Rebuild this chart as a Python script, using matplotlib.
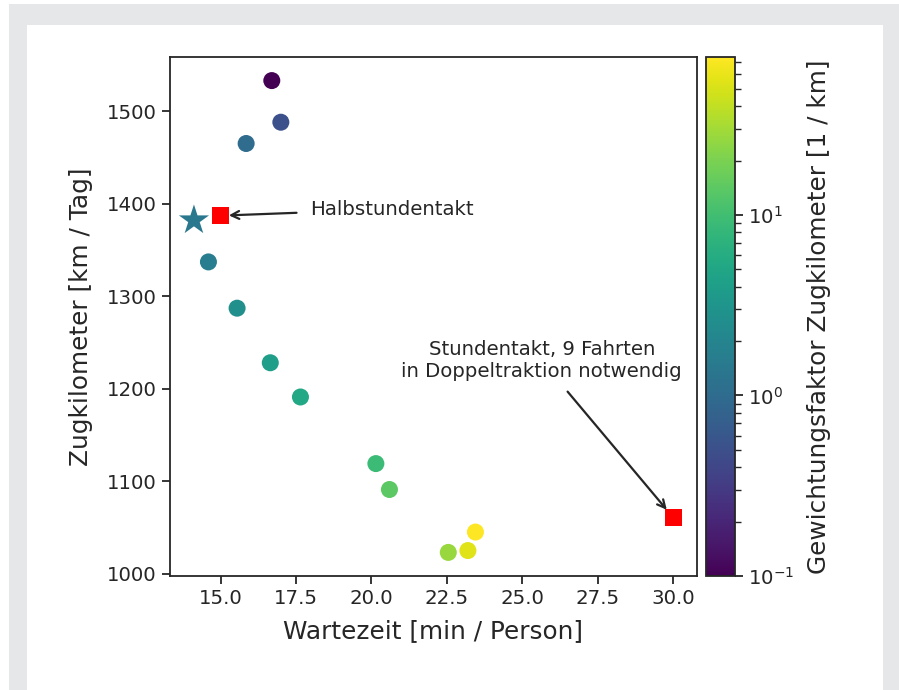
import matplotlib.pyplot as plt
from matplotlib.colors import LogNorm
from matplotlib.patches import Rectangle


# Varianten: Wartezeit, Zugkilometer, Gewichtungsfaktor
WAIT_TIMES = [16.7, 17.0, 15.85, 14.6, 15.55, 16.65, 17.65, 20.15, 20.6, 22.55, 23.2, 23.45]
TRAIN_KM = [1533, 1488, 1465, 1337, 1287, 1228, 1191, 1119, 1091, 1023, 1025, 1045]
WEIGHTS = [0.1, 0.5, 1.0, 1.6, 2.7, 4.0, 5.3, 9.0, 14.0, 27.0, 54.0, 75.0]

OPTIMUM_WAIT = [14.12]
OPTIMUM_KM = [1382]

SPECIAL_WAIT = [15.0, 30.0]
SPECIAL_KM = [1387, 1061]
SPECIAL_LABELS = ["Halbstundentakt", "Stundentakt, 9 Fahrten\nin Doppeltraktion notwendig"]

TEXT_COLOR = "#262626"
TICK_SIZE = 14.2
LABEL_SIZE = 17.8

plt.rcParams["font.family"] = ["DejaVu Sans"]
plt.rcParams["text.color"] = TEXT_COLOR
plt.rcParams["axes.labelcolor"] = TEXT_COLOR
plt.rcParams["xtick.color"] = TEXT_COLOR
plt.rcParams["ytick.color"] = TEXT_COLOR
plt.rcParams["axes.edgecolor"] = TEXT_COLOR


def main() -> None:
    fig = plt.figure(figsize=(8.99, 6.90), dpi=100)
    fig.patch.set_facecolor("white")

    # gray frame with white inner panel
    fig.patches.append(
        Rectangle((9 / 899, 0), 890 / 899, 686 / 690,
                  transform=fig.transFigure, facecolor="#e6e7e9",
                  edgecolor="none", zorder=-10)
    )
    fig.patches.append(
        Rectangle((27 / 899, 0), 856 / 899, 665 / 690,
                  transform=fig.transFigure, facecolor="white",
                  edgecolor="none", zorder=-9)
    )

    ax = fig.add_axes([170 / 899, 1 - 576 / 690, 527 / 899, 519 / 690])
    cax = fig.add_axes([706 / 899, 1 - 576 / 690, 29 / 899, 519 / 690])

    norm = LogNorm(vmin=0.1, vmax=75)

    sc = ax.scatter(
        WAIT_TIMES,
        TRAIN_KM,
        c=WEIGHTS,
        cmap="viridis",
        norm=norm,
        s=150,
        edgecolors="none",
        zorder=3,
    )

    ax.scatter(
        OPTIMUM_WAIT,
        OPTIMUM_KM,
        marker="*",
        s=520,
        color="#2a788e",
        edgecolors="none",
        zorder=3,
    )

    ax.scatter(
        SPECIAL_WAIT,
        SPECIAL_KM,
        marker="s",
        s=150,
        color="red",
        edgecolors="none",
        zorder=4,
    )

    ax.annotate(
        SPECIAL_LABELS[0],
        xy=(SPECIAL_WAIT[0], SPECIAL_KM[0]),
        xytext=(17.98, 1394),
        fontsize=TICK_SIZE,
        va="center",
        ha="left",
        arrowprops=dict(arrowstyle="->", color=TEXT_COLOR, lw=1.6,
                        shrinkA=8, shrinkB=6),
    )

    ax.annotate(
        SPECIAL_LABELS[1],
        xy=(SPECIAL_WAIT[1], SPECIAL_KM[1]),
        xytext=(25.65, 1230),
        fontsize=TICK_SIZE,
        va="center",
        ha="center",
        multialignment="center",
        arrowprops=dict(arrowstyle="->", color=TEXT_COLOR, lw=1.6,
                        shrinkA=7, shrinkB=7),
    )

    ax.set_xticks([15.0, 17.5, 20.0, 22.5, 25.0, 27.5, 30.0])
    ax.set_yticks([1000, 1100, 1200, 1300, 1400, 1500])
    ax.tick_params(labelsize=TICK_SIZE, length=6, width=1.3)
    for spine in ax.spines.values():
        spine.set_linewidth(1.3)

    ax.set_xlabel("Wartezeit [min / Person]", fontsize=LABEL_SIZE, labelpad=8)
    ax.set_ylabel("Zugkilometer [km / Tag]", fontsize=LABEL_SIZE, labelpad=10)

    cbar = fig.colorbar(sc, cax=cax)
    cbar.set_label("Gewichtungsfaktor Zugkilometer [1 / km]",
                   fontsize=LABEL_SIZE, labelpad=9)
    cbar.ax.tick_params(labelsize=TICK_SIZE, which="major", length=6, width=1.3)
    cbar.ax.tick_params(which="minor", length=4, width=1.0)
    cbar.outline.set_linewidth(1.3)

    fig.savefig("out.png", dpi=100)
    plt.close(fig)


if __name__ == "__main__":
    main()
